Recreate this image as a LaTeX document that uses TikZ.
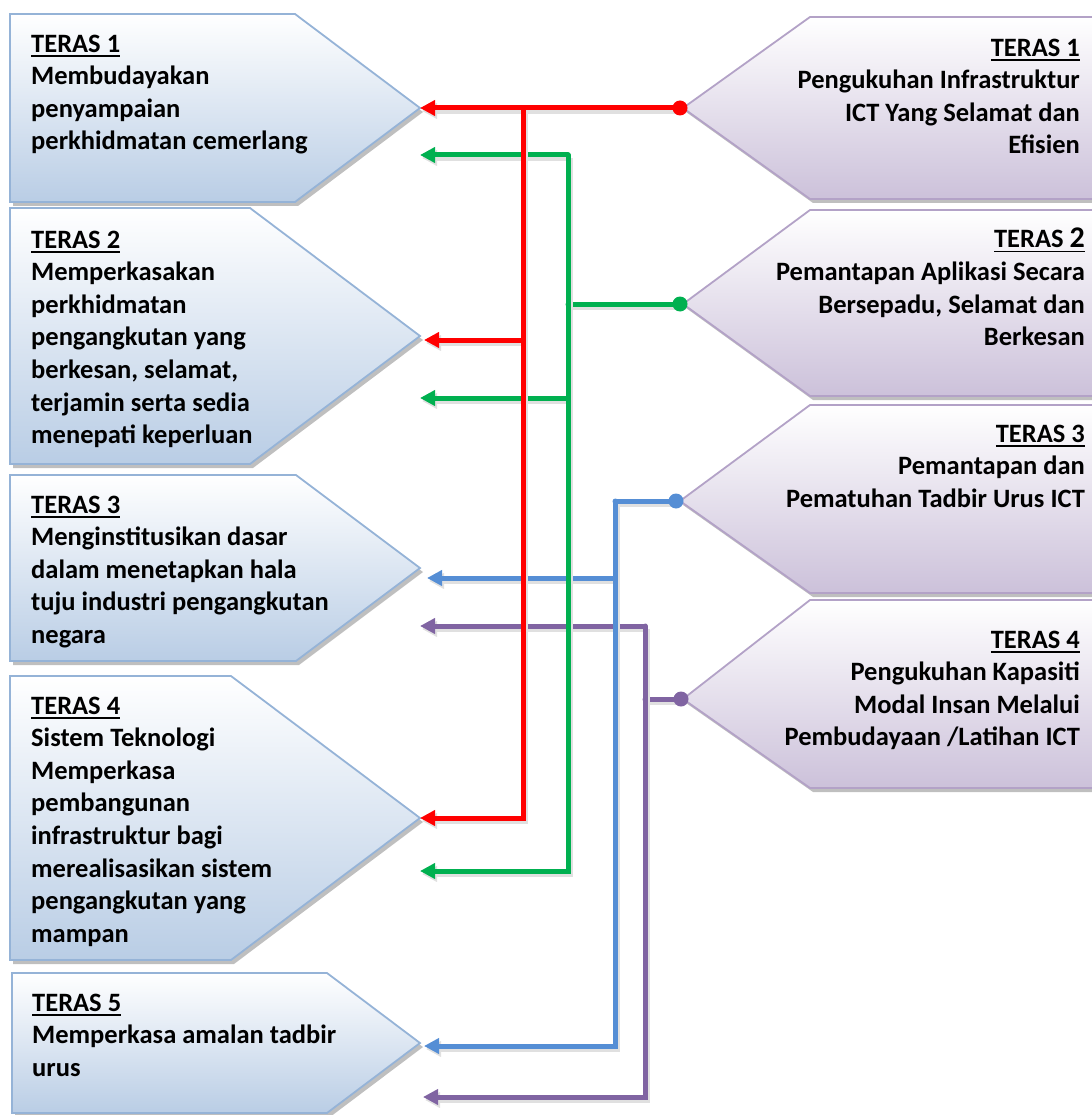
\documentclass[tikz,border=0pt]{standalone}
\usepackage{fontspec}
\setmainfont{Carlito}
\usepackage{tikz}
\usetikzlibrary{arrows.meta, shadows}

\definecolor{birumuda}{HTML}{B9CDE5}
\definecolor{birugaris}{HTML}{95B3D7}
\definecolor{ungumuda}{HTML}{CCC1DA}
\definecolor{ungugaris}{HTML}{B3A2C7}
\definecolor{hijau}{HTML}{00B050}
\definecolor{biru}{HTML}{558ED5}
\definecolor{ungu}{HTML}{8064A2}

\newcommand{\tajuk}[1]{\setbox0\hbox{#1}\rlap{\rule[-4.5pt]{\wd0}{1.8pt}}\box0}

\tikzset{
  bayang/.style={drop shadow={shadow xshift=3pt, shadow yshift=-4pt, fill=black, opacity=.25}},
  kiri/.style={draw=birugaris, line width=1.8pt, top color=white, bottom color=birumuda, bayang},
  kanan/.style={draw=ungugaris, line width=1.8pt, top color=white, bottom color=ungumuda, bayang},
  teks/.style={inner sep=0pt, font=\fontsize{26.5}{32.6}\selectfont\bfseries},
  garis/.style={line width=5pt, line cap=round,
    preaction={draw=black!12, line width=6pt, transform canvas={shift={(2pt,-3pt)}}}},
  anak/.style={-{Triangle[length=15pt,width=15pt]}},
}

\begin{document}
\begin{tikzpicture}[x=1pt, y=-1pt]
  \useasboundingbox (0,0) rectangle (1091,1115);

  % Teras kiri 1
  \draw[kiri] (10,14) -- (295,14) -- (420,108) -- (295,202) -- (10,202) -- cycle;
  \node[teks, anchor=north west, align=left] (kiri1) at (31,34.5)
    {\tajuk{TERAS 1}\\Membudayakan\\penyampaian\\perkhidmatan cemerlang};

  % Teras kiri 2
  \draw[kiri] (10,208) -- (250,208) -- (420,336) -- (250,464) -- (10,464) -- cycle;
  \node[teks, anchor=north west, align=left] (kiri2) at (31,230.5)
    {\tajuk{TERAS 2}\\Memperkasakan\\perkhidmatan\\pengangkutan yang\\berkesan, selamat,\\terjamin serta sedia\\menepati keperluan};

  % Teras kiri 3
  \draw[kiri] (10,475) -- (296,475) -- (420,568) -- (296,661) -- (10,661) -- cycle;
  \node[teks, anchor=north west, align=left] (kiri3) at (31,495.5)
    {\tajuk{TERAS 3}\\Menginstitusikan dasar\\dalam menetapkan hala\\tuju industri pengangkutan\\negara};

  % Teras kiri 4
  \draw[kiri] (10,676) -- (231,676) -- (420,818) -- (231,960) -- (10,960) -- cycle;
  \node[teks, anchor=north west, align=left] (kiri4) at (31,696.5)
    {\tajuk{TERAS 4}\\Sistem Teknologi\\Memperkasa\\pembangunan\\infrastruktur bagi\\merealisasikan sistem\\pengangkutan yang\\mampan};

  % Teras kiri 5
  \draw[kiri] (12,973) -- (327,973) -- (420,1043) -- (327,1113) -- (12,1113) -- cycle;
  \node[teks, anchor=north west, align=left] (kiri5) at (32,993.5)
    {\tajuk{TERAS 5}\\Memperkasa amalan tadbir\\urus};

  % Teras kanan 1
  \draw[kanan] (1100,17) -- (810,17) -- (683,108) -- (810,199) -- (1100,199) -- cycle;
  \node[teks, anchor=north east, align=right] (kanan1) at (1080,38.5)
    {\tajuk{TERAS 1}\\Pengukuhan Infrastruktur\\ICT Yang Selamat dan\\Efisien};

  % Teras kanan 2
  \draw[kanan] (1100,210) -- (810,210) -- (683,304) -- (810,396) -- (1100,396) -- cycle;
  \node[teks, anchor=north east, align=right] (kanan2) at (1085,228)
    {\tajuk{TERAS {\fontsize{30}{32.6}\selectfont 2}}\\Pemantapan Aplikasi Secara\\Bersepadu, Selamat dan\\Berkesan};

  % Teras kanan 3
  \draw[kanan] (1100,405) -- (810,405) -- (680,501) -- (810,593) -- (1100,593) -- cycle;
  \node[teks, anchor=north east, align=right] (kanan3) at (1085,424.5)
    {\tajuk{TERAS 3}\\Pemantapan dan\\Pematuhan Tadbir Urus ICT};

  % Teras kanan 4
  \draw[kanan] (1100,600) -- (810,600) -- (683,699) -- (810,788) -- (1100,788) -- cycle;
  \node[teks, anchor=north east, align=right] (kanan4) at (1080,630.5)
    {\tajuk{TERAS 4}\\Pengukuhan Kapasiti\\Modal Insan Melalui\\Pembudayaan /Latihan ICT};

  % titik sambungan (kanan) dan hujung anak panah (kiri)
  \coordinate (d1) at (680,108);
  \coordinate (d2) at (680,304);
  \coordinate (d3) at (676,501);
  \coordinate (d4) at (681,699);
  \coordinate (r1) at (420,108);
  \coordinate (r2) at (424,340);
  \coordinate (r4) at (420,818);
  \coordinate (g1) at (420,155);
  \coordinate (g2) at (420,398);
  \coordinate (g4) at (420,871);
  \coordinate (b3) at (427,578);
  \coordinate (b5) at (424,1046);
  \coordinate (p3) at (420,626);
  \coordinate (p5) at (423,1097);
  \coordinate (busM) at (523,0);
  \coordinate (busH) at (568,0);
  \coordinate (busB) at (615,0);
  \coordinate (busU) at (645,0);

  % garis mendatar dahulu
  \draw[garis, red, anak] (d1) -- (r1);
  \draw[garis, red, anak] (r2 -| busM) -- (r2);
  \draw[garis, hijau] (d2) -- (d2 -| busH);
  \draw[garis, hijau, anak] (g1 -| busH) -- (g1);
  \draw[garis, hijau, anak] (g2 -| busH) -- (g2);
  \draw[garis, biru] (d3) -- (d3 -| busB);
  \draw[garis, biru, anak] (b3 -| busB) -- (b3);
  \draw[garis, ungu] (d4) -- (d4 -| busU);
  \draw[garis, ungu, anak] (p3 -| busU) -- (p3);

  % garis menegak
  \draw[garis, red, anak] (r1 -| busM) -- (r4 -| busM) -- (r4);
  \draw[garis, hijau, anak] (g1 -| busH) -- (g4 -| busH) -- (g4);
  \draw[garis, biru, anak] (d3 -| busB) -- (b5 -| busB) -- (b5);
  \draw[garis, ungu, anak] (p3 -| busU) -- (p5 -| busU) -- (p5);

  % titik
  \fill[red] (d1) circle[radius=7.5pt];
  \fill[hijau] (d2) circle[radius=7.5pt];
  \fill[biru] (d3) circle[radius=7.5pt];
  \fill[ungu] (d4) circle[radius=7.5pt];
\end{tikzpicture}
\end{document}
